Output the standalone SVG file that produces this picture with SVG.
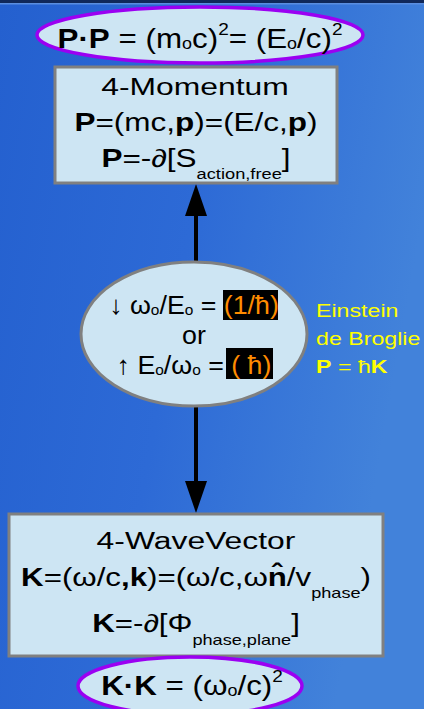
<svg xmlns="http://www.w3.org/2000/svg" width="424" height="709" viewBox="0 0 424 709">
<defs>
<linearGradient id="bg" x1="0" y1="0" x2="1" y2="0.3">
<stop offset="0" stop-color="#2460cf"/>
<stop offset="0.5" stop-color="#2d6ad6"/>
<stop offset="1" stop-color="#4282da"/>
</linearGradient>
<style>
text{font-family:"Liberation Sans",Arial,sans-serif;fill:#000}
.node{fill:#cde5f3}
.box{stroke:#808080;stroke-width:3}
.ell{stroke:#9b00f2;stroke-width:3.5}
.mid{stroke:#808080;stroke-width:3}
.c{text-anchor:middle}
.b{font-weight:bold}
.y{fill:#ffff00}
.o{fill:#ff8c00}
</style>
</defs>
<rect width="424" height="709" fill="url(#bg)"/>
<rect width="424" height="3" fill="#10285a"/>
<rect y="3" width="424" height="1.5" fill="#5a8ee0"/>

<g id="connectors">
<line x1="196" y1="212" x2="196" y2="264" stroke="#000" stroke-width="4"/>
<polygon points="196,184 185,216 207,216" fill="#000"/>
<line x1="196" y1="405" x2="196" y2="485" stroke="#000" stroke-width="4"/>
<polygon points="196,513 185,481 207,481" fill="#000"/>
</g>

<g id="pp-invariant">
<ellipse class="node ell" cx="200" cy="35" rx="163" ry="28"/>
<text transform="translate(200,0) scale(1.12,1)" x="0" y="48" font-size="28" class="c"><tspan class="b">P·P</tspan> = (m<tspan font-size="16" dy="1">o</tspan><tspan dy="-1">c)</tspan><tspan font-size="17" dy="-13">2</tspan><tspan dy="13">= (E</tspan><tspan font-size="16" dy="1">o</tspan><tspan dy="-1">/c)</tspan><tspan font-size="17" dy="-13">2</tspan></text>
</g>

<g id="four-momentum">
<rect class="node box" x="55" y="67" width="282" height="116"/>
<text transform="translate(195,0) scale(1.3,1)" x="0" y="95" font-size="24.5" class="c">4-Momentum</text>
<text transform="translate(196,0) scale(1.26,1)" x="0" y="131" font-size="25" class="c"><tspan class="b">P</tspan>=(mc,<tspan class="b">p</tspan>)=(E/c,<tspan class="b">p</tspan>)</text>
<text transform="translate(196,0) scale(1.26,1)" x="0" y="167" font-size="25" class="c"><tspan class="b">P</tspan>=-∂[S<tspan font-size="14.5" dy="12">action,free</tspan><tspan dy="-12">]</tspan></text>
</g>

<g id="relation">
<ellipse class="node mid" cx="194" cy="334" rx="113" ry="72"/>
<rect x="223" y="290" width="55" height="30" fill="#000"/>
<rect x="226" y="348" width="47" height="31" fill="#000"/>
<text transform="translate(194,0) scale(1.03,1)" x="0" y="314" font-size="26" class="c">↓ ω<tspan font-size="15" dy="1">o</tspan><tspan dy="-1">/E</tspan><tspan font-size="15" dy="1">o</tspan><tspan dy="-1"> = </tspan><tspan class="o">(1/ħ)</tspan></text>
<text transform="translate(194,0) scale(1.03,1)" x="0" y="344" font-size="26" class="c">or</text>
<text transform="translate(194,0) scale(1.03,1)" x="0" y="374" font-size="26" class="c">↑ E<tspan font-size="15" dy="1">o</tspan><tspan dy="-1">/ω</tspan><tspan font-size="15" dy="1">o</tspan><tspan dy="-1"> = </tspan><tspan class="o">( ħ)</tspan></text>
</g>

<g id="einstein-debroglie">
<text transform="translate(316,0) scale(1.22,1)" x="0" y="317" font-size="19" class="y">Einstein</text>
<text transform="translate(316,0) scale(1.22,1)" x="0" y="345" font-size="19" class="y">de Broglie</text>
<text transform="translate(316,0) scale(1.22,1)" x="0" y="373" font-size="19" class="y"><tspan class="b">P</tspan> = ħ<tspan class="b">K</tspan></text>
</g>

<g id="four-wavevector">
<rect class="node box" x="9" y="514" width="374" height="142"/>
<text transform="translate(196,0) scale(1.3,1)" x="0" y="549" font-size="24.5" class="c">4-WaveVector</text>
<text transform="translate(196,0) scale(1.25,1)" x="0" y="586" font-size="25" class="c"><tspan class="b">K</tspan>=(ω/c<tspan class="b">,k</tspan>)=(ω/c,ω<tspan class="b">n̂</tspan>/v<tspan font-size="14.5" dy="12">phase</tspan><tspan dy="-12">)</tspan></text>
<text transform="translate(196,0) scale(1.25,1)" x="0" y="632" font-size="25" class="c"><tspan class="b">K</tspan>=-∂[Φ<tspan font-size="14.5" dy="13">phase,plane</tspan><tspan dy="-13">]</tspan></text>
</g>

<g id="kk-invariant">
<ellipse class="node ell" cx="190" cy="686" rx="112" ry="29"/>
<text transform="translate(192,0) scale(1.12,1)" x="0" y="695" font-size="28" class="c"><tspan class="b">K·K</tspan> = (ω<tspan font-size="16" dy="1">o</tspan><tspan dy="-1">/c)</tspan><tspan font-size="17" dy="-13">2</tspan></text>
</g>
</svg>
